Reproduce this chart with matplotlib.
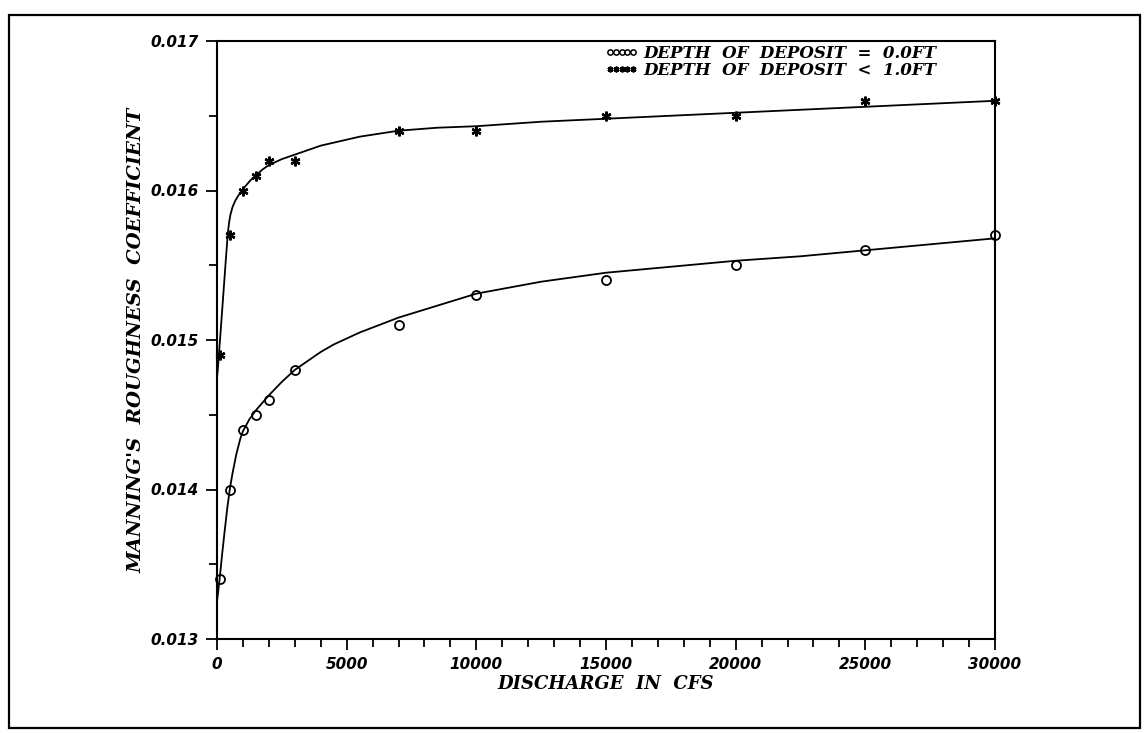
import matplotlib
matplotlib.use("Agg")
import matplotlib.pyplot as plt
from matplotlib.lines import Line2D
from matplotlib.patches import Rectangle
from matplotlib.ticker import MultipleLocator, FormatStrFormatter
from matplotlib.font_manager import FontProperties

# measured points
discharge = [100, 500, 1000, 1500, 2000, 3000, 7000, 10000, 15000, 20000, 25000, 30000]
n_no_deposit = [0.0134, 0.0140, 0.0144, 0.0145, 0.0146, 0.0148,
                0.0151, 0.0153, 0.0154, 0.0155, 0.0156, 0.0157]
n_deposit = [0.0149, 0.0157, 0.0160, 0.0161, 0.0162, 0.0162,
             0.0164, 0.0164, 0.0165, 0.0165, 0.0166, 0.0166]

# fitted curves
fit_x_low = [0, 100, 200, 300, 400, 500, 600, 750, 900, 1000, 1250, 1500, 1750, 2000,
             2500, 3000, 3500, 4000, 4500, 5500, 7000, 8500, 10000, 12500,
             15000, 17500, 20000, 22500, 25000, 27500, 30000]
fit_y_low = [0.01325, 0.01340, 0.01357, 0.01373, 0.01388, 0.01401, 0.01411, 0.01424,
             0.01434, 0.01439, 0.01447, 0.01453, 0.01458, 0.01463, 0.01472, 0.01480,
             0.01486, 0.01492, 0.01497, 0.01505, 0.01515, 0.01523, 0.01531, 0.01539,
             0.01545, 0.01549, 0.01553, 0.01556, 0.01560, 0.01564, 0.01568]
fit_x_high = [0, 30, 200, 350, 420, 470, 520, 600, 700, 800, 1000, 1300, 1500, 1750,
              2000, 2500, 3000, 3500, 4000, 4500, 5500, 7000, 8500, 10000, 12500,
              15000, 17500, 20000, 22500, 25000, 27500, 30000]
fit_y_high = [0.01475, 0.01480, 0.01520, 0.01556, 0.01572, 0.01579, 0.01584, 0.01589,
              0.01593, 0.01596, 0.01601, 0.01607, 0.01610, 0.01614, 0.01617, 0.01621,
              0.01624, 0.01627, 0.01630, 0.01632, 0.01636, 0.01640, 0.01642, 0.01643,
              0.01646, 0.01648, 0.01650, 0.01652, 0.01654, 0.01656, 0.01658, 0.01660]

label_font = dict(family="DejaVu Serif", weight="bold", style="italic")
tick_font = FontProperties(family="DejaVu Sans", weight="bold", style="italic", size=11)

fig = plt.figure(figsize=(11.46, 7.33), dpi=100)
ax = fig.add_axes([217 / 1146, 1 - 639 / 733, 778 / 1146, 598 / 733])

ax.plot(fit_x_low, fit_y_low, color="black", lw=1.3)
ax.plot(fit_x_high, fit_y_high, color="black", lw=1.3)
ax.plot(discharge, n_no_deposit, ls="none", marker="o", ms=6.5, mfc="none",
        mec="black", mew=1.3, clip_on=False)
ax.plot(discharge, n_deposit, ls="none", marker=(6, 2, 0), ms=7,
        color="black", mew=1.7, clip_on=False)

ax.set_xlim(0, 30000)
ax.set_ylim(0.013, 0.017)
ax.xaxis.set_major_locator(MultipleLocator(5000))
ax.xaxis.set_minor_locator(MultipleLocator(1000))
ax.yaxis.set_major_locator(MultipleLocator(0.001))
ax.yaxis.set_minor_locator(MultipleLocator(0.0005))
ax.yaxis.set_major_formatter(FormatStrFormatter("%.3f"))

ax.tick_params(axis="both", which="major", direction="out", length=8, width=1.3, pad=5)
ax.tick_params(axis="both", which="minor", direction="out", length=6, width=1.3)
for lab in ax.get_xticklabels() + ax.get_yticklabels():
    lab.set_fontproperties(tick_font)

for sp in ax.spines.values():
    sp.set_linewidth(1.5)

ax.set_xlabel("DISCHARGE  IN  CFS", fontsize=13, labelpad=2, **label_font)
ax.set_ylabel("MANNING'S  ROUGHNESS  COEFFICIENT", fontsize=14, labelpad=4, **label_font)

handles = [
    Line2D([], [], ls="none", marker="o", ms=3.8, mfc="none", mec="black", mew=1.1),
    Line2D([], [], ls="none", marker=(6, 2, 0), ms=4.2, color="black", mew=1.3),
]
labels = ["DEPTH  OF  DEPOSIT  =  0.0FT", "DEPTH  OF  DEPOSIT  <  1.0FT"]
ax.legend(handles, labels, loc="upper left", bbox_to_anchor=(0.49, 1.005),
          frameon=False, numpoints=5, handlelength=2.0, handletextpad=0.3,
          labelspacing=0.0, borderaxespad=0,
          prop=FontProperties(size=12, **label_font))

fig.patches.append(Rectangle((9 / 1146, 5 / 733), 1131 / 1146, 713 / 733,
                             transform=fig.transFigure, fill=False,
                             edgecolor="black", lw=1.6))

fig.savefig("out.png", dpi=100)
